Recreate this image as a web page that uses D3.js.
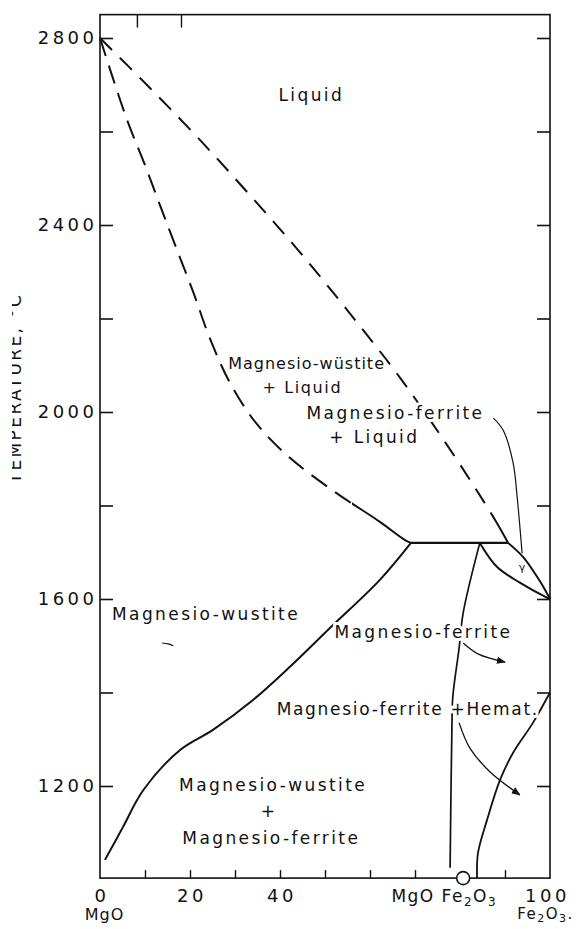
<!DOCTYPE html>
<html>
<head>
<meta charset="utf-8">
<script src="https://cdn.jsdelivr.net/npm/d3@7"></script>
<style>
  html, body { margin: 0; padding: 0; background: #fff; }
  svg { display: block; }
  text { font-family: "DejaVu Sans", sans-serif; fill: #111; }
</style>
</head>
<body>
<svg id="chart" width="582" height="929"></svg>
<script>
// ---------- data (composition wt% Fe2O3, temperature °C) ----------
const xTicks = [10, 20, 30, 40, 50, 60, 70, 90];
const xTickLabels = [{v: 0, t: "0"}, {v: 20, t: "20"}, {v: 40, t: "40"}, {v: 99, t: "100"}];
const topTicks = [8.2, 18];
const yTicks = [1200, 1400, 1600, 1800, 2000, 2200, 2400, 2600, 2800];
const yTickLabels = [1200, 1600, 2000, 2400, 2800];
const xDomain = [0, 100];
const tDomain = [1003, 2850];

// liquidus of magnesio-wustite (dashed, solid near the peritectic)
const liquidusMW = [[0, 2800], [11.1, 2693], [22.2, 2582], [33.3, 2464], [44.4, 2342], [55.6, 2210],
  [66.7, 2073], [74.9, 1961], [82.2, 1855], [87.8, 1769], [90.7, 1720]];
const liquidusSolidFrom = 87.1;
// solidus of magnesio-wustite (dashed, solid near the peritectic)
const solidusMW = [[0, 2800], [2.7, 2719], [6.2, 2620], [9.8, 2533], [13.3, 2443], [16.7, 2357],
  [20.7, 2257], [24.4, 2158], [28.9, 2062], [34.7, 1976], [42.2, 1902], [52.2, 1829],
  [62.2, 1765], [67.8, 1726], [69.1, 1720]];
const solidusSolidFrom = 56;
// horizontal peritectic line
const peritectic = [[69.1, 1720], [90.7, 1720]];
// solvus magnesio-wustite / magnesio-wustite + magnesio-ferrite
const solvusMW = [[69.1, 1720], [62.2, 1641], [51.1, 1538], [42.2, 1455], [34, 1384], [25.1, 1320],
  [17.8, 1277], [9.6, 1191], [5.1, 1112], [1.1, 1042]];
// magnesio-ferrite solvus (MgO side)
const solvusMF = [[84.4, 1720], [80.7, 1570], [79.8, 1495], [78.4, 1390], [78.2, 1324], [77.8, 1025]];
// lens (gamma) lower and upper boundaries
const lensLower = [[84.4, 1720], [88.2, 1669], [93.3, 1635], [99.3, 1603], [100, 1600]];
const lensUpper = [[90.7, 1720], [94, 1690], [97.1, 1648], [99.3, 1613], [100, 1600]];
// magnesio-ferrite / hematite solvus (Fe2O3 side)
const solvusHem = [[100, 1400], [96.2, 1335], [91.8, 1271], [88.9, 1213], [86, 1127], [84, 1057], [83.8, 1003]];
// annotation leader and arrows
const leaderMF = [[87.4, 1987], [89.6, 1961], [91.8, 1891], [92.7, 1818], [93.8, 1698]];
const arrowMF = [[80.7, 1506], [84.1, 1482], [90, 1465]];
const arrowHem = [[79.8, 1335], [82.2, 1281], [86.7, 1230], [93.3, 1181]];
const scanMark = [[13.8, 1506], [15.2, 1504], [16.3, 1500]];
const gammaPoint = [93.8, 1668];
const spinelPoint = [80.7, 1003];

// region labels: text, x (wt%), T (°C), font size, letter spacing
const labels = [
  {t: "Liquid", x: 46.7, T: 2665, fs: 17, ls: 2.4},
  {t: "Magnesio-wüstite", x: 45.8, T: 2093, fs: 16, ls: 1.0},
  {t: "+ Liquid", x: 44.8, T: 2040, fs: 16, ls: 1.6},
  {t: "Magnesio-ferrite", x: 65.4, T: 1985, fs: 17, ls: 2.4},
  {t: "+ Liquid", x: 60.7, T: 1934, fs: 17, ls: 2.4},
  {t: "Magnesio-wustite", x: 23.3, T: 1555, fs: 17, ls: 2.4},
  {t: "Magnesio-ferrite", x: 71.6, T: 1517, fs: 17, ls: 2.4},
  {t: "Magnesio-ferrite +Hemat.", x: 68.2, T: 1352, fs: 17, ls: 1.7},
  {t: "Magnesio-wustite", x: 38.2, T: 1190, fs: 17, ls: 2.4},
  {t: "+", x: 37.3, T: 1133, fs: 17, ls: 0},
  {t: "Magnesio-ferrite", x: 37.8, T: 1077, fs: 17, ls: 2.4}
];

// ---------- drawing ----------
const svg = d3.select("#chart");
const x = d3.scaleLinear().domain(xDomain).range([100, 550]);
const y = d3.scaleLinear().domain([1200, 2800]).range([786, 38]);
const yTop = y(tDomain[1]), yBot = y(tDomain[0]);

const line = d3.line().x(d => x(d[0])).y(d => y(d[1])).curve(d3.curveCatmullRom.alpha(0.5));
const straight = d3.line().x(d => x(d[0])).y(d => y(d[1]));
const defs = svg.append("defs");

// frame
svg.append("rect").attr("x", x(0)).attr("y", yTop).attr("width", x(100) - x(0)).attr("height", yBot - yTop)
  .attr("fill", "none").attr("stroke", "#111").attr("stroke-width", 1.6);

// left axis
const yAxisL = d3.axisLeft(y).tickValues(yTicks).tickSize(-13).tickPadding(6)
  .tickFormat(d => yTickLabels.includes(d) ? String(d) : "");
const gL = svg.append("g").attr("transform", `translate(${x(0)},0)`).call(yAxisL);
gL.select(".domain").remove();
gL.selectAll("line").attr("stroke", "#111").attr("stroke-width", 1.6);
gL.selectAll("text").attr("font-size", 18).attr("letter-spacing", 3.5).attr("fill", "#111")
  .attr("dx", 3.5).style("font-family", "DejaVu Sans");

// right axis
const yAxisR = d3.axisRight(y).tickValues(yTicks).tickSize(-13).tickFormat("");
const gR = svg.append("g").attr("transform", `translate(${x(100)},0)`).call(yAxisR);
gR.select(".domain").remove();
gR.selectAll("line").attr("stroke", "#111").attr("stroke-width", 1.6);

// bottom axis ticks
const xAxisB = d3.axisBottom(x).tickValues(xTicks).tickSize(-8).tickFormat("");
const gB = svg.append("g").attr("transform", `translate(0,${yBot})`).call(xAxisB);
gB.select(".domain").remove();
gB.selectAll("line").attr("stroke", "#111").attr("stroke-width", 1.4);

// top axis ticks
const xAxisT = d3.axisTop(x).tickValues(topTicks).tickSize(-13).tickFormat("");
const gT = svg.append("g").attr("transform", `translate(0,${yTop})`).call(xAxisT);
gT.select(".domain").remove();
gT.selectAll("line").attr("stroke", "#111").attr("stroke-width", 1.4);

// bottom labels
svg.selectAll("text.xl").data(xTickLabels).enter().append("text").attr("class", "xl")
  .attr("x", d => x(d.v) + 2).attr("y", yBot + 24).attr("text-anchor", "middle")
  .attr("font-size", 18).attr("letter-spacing", 3.5).text(d => d.t);

const sub = (sel, parts, fs, shift) => {
  parts.forEach(p => {
    const t = sel.append("tspan").text(p[0]);
    if (p[1]) t.attr("font-size", fs).attr("dy", shift); else if (p[2]) t.attr("dy", -shift);
  });
};
const mf = svg.append("text").attr("x", x(76.5)).attr("y", yBot + 24).attr("text-anchor", "middle")
  .attr("font-size", 17).attr("letter-spacing", 1.5);
sub(mf, [["MgO Fe"], ["2", true], ["O", false, true], ["3", true], ["", false, true]], 12, 4);
svg.append("text").attr("x", x(1)).attr("y", yBot + 42).attr("text-anchor", "middle")
  .attr("font-size", 16).attr("letter-spacing", 1).text("MgO");
const fe = svg.append("text").attr("x", x(99)).attr("y", yBot + 41).attr("text-anchor", "middle")
  .attr("font-size", 15).attr("letter-spacing", 1.5);
sub(fe, [["Fe"], ["2", true], ["O", false, true], ["3", true], [".", false, true]], 11, 3);

// y-axis title (cut at the left edge as in the scan)
defs.append("clipPath").attr("id", "cut").append("rect").attr("x", 12).attr("y", 0).attr("width", 60).attr("height", 929);
svg.append("g").attr("clip-path", "url(#cut)").append("text")
  .attr("transform", `translate(21,388) rotate(-90)`).attr("text-anchor", "middle")
  .attr("font-size", 17).attr("letter-spacing", 2.4).text("TEMPERATURE, °C");

// clip regions to switch dashed -> solid
const clipX = (id, from, to) => defs.append("clipPath").attr("id", id).append("rect")
  .attr("x", x(from)).attr("y", 0).attr("width", x(to) - x(from)).attr("height", 929);
clipX("lqDash", -5, liquidusSolidFrom); clipX("lqSolid", liquidusSolidFrom, 105);
clipX("slDash", -5, solidusSolidFrom); clipX("slSolid", solidusSolidFrom, 105);

// phase boundaries
const curve = (data, dash, w) => svg.append("path").attr("d", line(data)).attr("fill", "none")
  .attr("stroke", "#111").attr("stroke-width", w || 2).attr("stroke-dasharray", dash || null)
  .attr("stroke-linecap", "butt").attr("stroke-linejoin", "round");
curve(liquidusMW, "17,11").attr("clip-path", "url(#lqDash)");
curve(liquidusMW).attr("clip-path", "url(#lqSolid)");
curve(solidusMW, "19,10").attr("clip-path", "url(#slDash)");
curve(solidusMW).attr("clip-path", "url(#slSolid)");
svg.append("path").attr("d", straight(peritectic)).attr("fill", "none").attr("stroke", "#111").attr("stroke-width", 2.2);
curve(solvusMW);
curve(solvusMF, null, 1.7);
curve(lensLower);
curve(lensUpper);
curve(solvusHem, null, 1.8);

// arrows
defs.append("marker").attr("id", "ah").attr("viewBox", "0 0 10 10").attr("refX", 9).attr("refY", 5)
  .attr("markerWidth", 9).attr("markerHeight", 9).attr("orient", "auto").attr("markerUnits", "userSpaceOnUse")
  .append("path").attr("d", "M0,1 L10,5 L0,9 Z").attr("fill", "#111");
curve(leaderMF, null, 1.2);
curve(arrowMF, null, 1.3).attr("marker-end", "url(#ah)");
curve(arrowHem, null, 1.3).attr("marker-end", "url(#ah)");
curve(scanMark, null, 1.1);

// gamma
svg.append("text").attr("x", x(gammaPoint[0])).attr("y", y(gammaPoint[1]) + 4).attr("text-anchor", "middle")
  .attr("font-size", 11).text("γ");

// spinel composition marker
svg.append("circle").attr("cx", x(spinelPoint[0])).attr("cy", y(spinelPoint[1])).attr("r", 6.5)
  .attr("fill", "#fff").attr("stroke", "#111").attr("stroke-width", 1.6);

// region labels with white halo
svg.selectAll("text.lab").data(labels).enter().append("text").attr("class", "lab")
  .attr("x", d => x(d.x) + d.ls / 2).attr("y", d => y(d.T)).attr("text-anchor", "middle")
  .attr("font-size", d => d.fs).attr("letter-spacing", d => d.ls)
  .attr("stroke", "#fff").attr("stroke-width", 6).attr("paint-order", "stroke").text(d => d.t);
</script>
</body>
</html>
